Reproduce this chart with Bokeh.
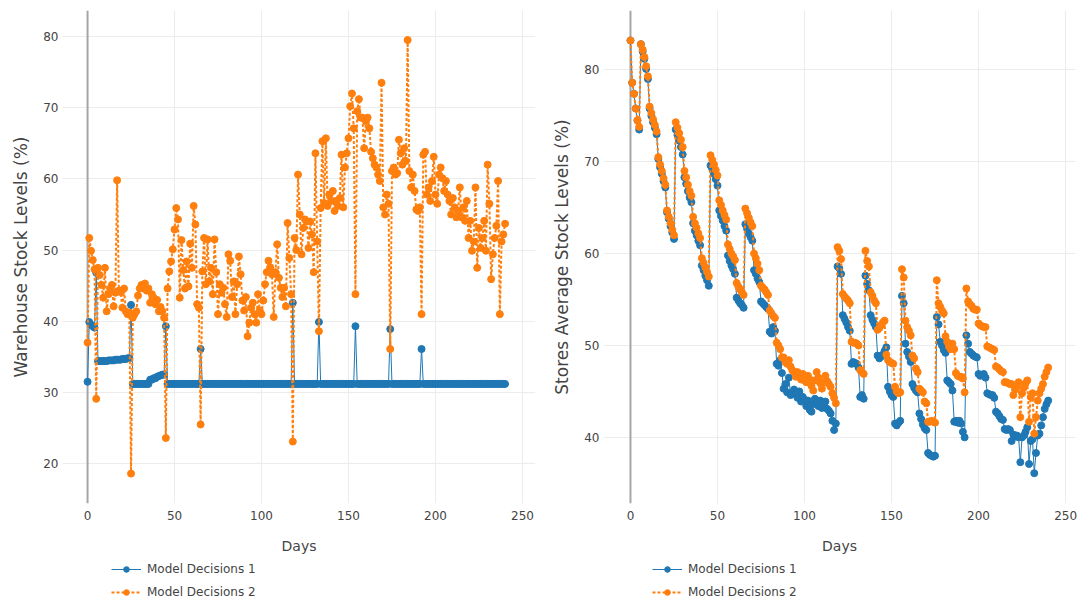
from bokeh.plotting import figure
from bokeh.layouts import row, column
from bokeh.models import Span, Legend, LegendItem, Range1d
from bokeh.embed import file_html
from bokeh.resources import INLINE

# ---------------- data ----------------
warehouse_md1 = [
    31.5, 39.9, 39.5, 39.3, 39.1, 46.8, 34.4, 34.4, 34.4, 34.4,
    34.4, 34.4, 34.5, 34.5, 34.5, 34.5, 34.6, 34.6, 34.6, 34.6,
    34.7, 34.7, 34.7, 34.8, 34.8, 42.3, 31.2, 31.2, 31.2, 31.2,
    31.2, 31.2, 31.2, 31.2, 31.2, 31.2, 31.8, 31.8, 32.0, 32.0,
    32.2, 32.3, 32.4, 32.5, 32.5, 39.3, 31.2, 31.2, 31.2, 31.2,
    31.2, 31.2, 31.2, 31.2, 31.2, 31.2, 31.2, 31.2, 31.2, 31.2,
    31.2, 31.2, 31.2, 31.2, 31.2, 36.1, 31.2, 31.2, 31.2, 31.2,
    31.2, 31.2, 31.2, 31.2, 31.2, 31.2, 31.2, 31.2, 31.2, 31.2,
    31.2, 31.2, 31.2, 31.2, 31.2, 31.2, 31.2, 31.2, 31.2, 31.2,
    31.2, 31.2, 31.2, 31.2, 31.2, 31.2, 31.2, 31.2, 31.2, 31.2,
    31.2, 31.2, 31.2, 31.2, 31.2, 31.2, 31.2, 31.2, 31.2, 31.2,
    31.2, 31.2, 31.2, 31.2, 31.2, 31.2, 31.2, 31.2, 42.6, 31.2,
    31.2, 31.2, 31.2, 31.2, 31.2, 31.2, 31.2, 31.2, 31.2, 31.2,
    31.2, 31.2, 31.2, 39.9, 31.2, 31.2, 31.2, 31.2, 31.2, 31.2,
    31.2, 31.2, 31.2, 31.2, 31.2, 31.2, 31.2, 31.2, 31.2, 31.2,
    31.2, 31.2, 31.2, 31.2, 39.3, 31.2, 31.2, 31.2, 31.2, 31.2,
    31.2, 31.2, 31.2, 31.2, 31.2, 31.2, 31.2, 31.2, 31.2, 31.2,
    31.2, 31.2, 31.2, 31.2, 38.9, 31.2, 31.2, 31.2, 31.2, 31.2,
    31.2, 31.2, 31.2, 31.2, 31.2, 31.2, 31.2, 31.2, 31.2, 31.2,
    31.2, 31.2, 36.1, 31.2, 31.2, 31.2, 31.2, 31.2, 31.2, 31.2,
    31.2, 31.2, 31.2, 31.2, 31.2, 31.2, 31.2, 31.2, 31.2, 31.2,
    31.2, 31.2, 31.2, 31.2, 31.2, 31.2, 31.2, 31.2, 31.2, 31.2,
    31.2, 31.2, 31.2, 31.2, 31.2, 31.2, 31.2, 31.2, 31.2, 31.2,
    31.2, 31.2, 31.2, 31.2, 31.2, 31.2, 31.2, 31.2, 31.2, 31.2,
    31.2,
]

warehouse_md2 = [
    37.0, 51.7, 49.9, 48.6, 47.3, 29.1, 47.5, 46.5, 45.1, 43.3,
    47.5, 41.4, 43.8, 44.6, 45.1, 42.1, 44.0, 59.8, 44.3, 44.1,
    41.9, 44.6, 41.4, 41.0, 41.2, 18.6, 40.5, 41.0, 41.4, 43.6,
    44.6, 45.1, 44.6, 45.3, 44.3, 44.6, 42.6, 43.8, 43.3, 42.4,
    43.0, 41.4, 42.0, 41.4, 40.5, 23.6, 44.6, 47.0, 48.4, 50.1,
    52.9, 55.9, 54.3, 43.3, 51.4, 47.2, 44.6, 48.4, 44.9, 50.9,
    47.5, 56.2, 53.6, 42.4, 41.9, 25.5, 47.0, 51.7, 45.2, 51.5,
    45.6, 47.5, 43.8, 51.5, 46.9, 41.0, 45.2, 44.0, 44.7, 42.4,
    40.6, 49.4, 48.5, 43.4, 45.6, 41.0, 45.2, 49.1, 46.6, 42.9,
    41.5, 43.4, 37.9, 39.8, 41.9, 42.6, 41.0, 39.8, 43.8, 41.5,
    41.0, 42.9, 45.2, 46.9, 48.5, 47.6, 46.6, 40.6, 46.9, 50.8,
    46.1, 44.7, 43.4, 44.7, 42.1, 53.8, 48.9, 43.8, 23.1, 51.7,
    50.0, 60.6, 55.0, 49.4, 53.1, 54.3, 54.0, 50.3, 54.0, 52.2,
    46.9, 63.6, 51.2, 38.6, 55.9, 65.3, 56.6, 65.7, 56.2, 57.8,
    56.9, 58.3, 55.5, 56.9, 56.2, 57.3, 63.4, 56.0, 61.6, 63.6,
    65.7, 70.2, 72.0, 67.1, 43.8, 69.5, 71.2, 68.6, 68.6, 64.3,
    68.1, 68.6, 67.1, 63.8, 62.9, 62.0, 61.6, 60.6, 59.7, 73.5,
    56.0, 55.0, 57.8, 56.5, 36.1, 61.1, 61.6, 60.6, 60.8, 65.5,
    63.6, 62.0, 64.3, 62.5, 79.5, 61.1, 58.8, 60.6, 58.3, 55.7,
    55.5, 56.0, 41.0, 63.4, 63.8, 57.8, 58.8, 56.9, 59.7, 63.1,
    57.8, 56.5, 60.6, 61.6, 60.1, 58.3, 59.7, 57.8, 56.9, 55.0,
    57.3, 56.0, 54.6, 55.5, 58.8, 54.6, 56.0, 54.1, 56.9, 51.7,
    54.1, 49.9, 51.2, 58.8, 47.5, 53.1, 50.3, 51.7, 54.1, 49.9,
    62.0, 56.5, 45.9, 49.4, 51.7, 53.4, 59.7, 41.0, 51.2, 52.2,
    53.7,
]

stores_md1 = [
    83.2, 78.6, 77.4, 75.8, 74.5, 73.5, 82.8, 82.0, 81.2, 80.1,
    79.0, 75.8, 75.0, 74.3, 73.7, 73.0, 70.3, 69.4, 68.7, 67.9,
    67.2, 64.5, 63.8, 63.0, 62.3, 61.6, 73.5, 72.9, 72.3, 71.6,
    70.8, 68.3, 67.6, 66.8, 66.1, 65.6, 63.3, 62.5, 62.0, 61.4,
    60.9, 58.7, 58.2, 57.6, 57.1, 56.5, 69.6, 69.2, 68.7, 68.1,
    67.4, 64.7, 64.1, 63.6, 63.0, 62.5, 59.8, 59.2, 58.7, 58.3,
    57.8, 55.2, 54.9, 54.6, 54.4, 54.1, 63.2, 62.7, 62.2, 61.8,
    61.4, 58.2, 57.8, 57.3, 56.9, 54.8, 54.6, 54.4, 54.2, 54.0,
    51.5, 51.3, 52.0, 51.6, 48.0, 47.8, 48.4, 47.0, 45.3, 45.8,
    44.9, 46.5, 44.6, 44.7, 45.2, 44.8, 44.3, 45.0, 43.9, 44.4,
    44.1, 43.4, 44.0, 43.0, 42.8, 43.6, 44.2, 43.7, 43.4, 44.0,
    43.2, 43.5, 43.9, 43.1, 42.9, 42.6, 41.8, 40.8, 41.5, 58.6,
    58.4, 57.8, 53.3, 52.9, 52.5, 52.0, 51.6, 48.0, 48.2, 48.1,
    48.0, 47.6, 44.4, 44.6, 44.2, 57.6, 56.7, 56.0, 53.3, 52.8,
    52.4, 52.0, 48.9, 48.6, 48.8, 49.0, 49.4, 49.8, 45.5, 45.0,
    44.6, 44.4, 41.5, 41.3, 41.6, 41.8, 55.4, 54.6, 50.2, 49.3,
    48.8, 48.2, 45.8, 45.4, 45.1, 44.9, 42.6, 42.0, 41.4, 41.0,
    40.8, 38.3, 38.1, 38.0, 37.9, 38.0, 53.1, 52.3, 50.4, 50.0,
    49.5, 49.2, 46.2, 46.0, 45.8, 45.1, 41.7, 41.8, 41.6, 41.8,
    41.5, 40.6, 40.0, 51.1, 50.2, 49.3, 49.1, 48.9, 48.8, 48.7,
    46.9, 46.7, 46.8, 46.9, 46.5, 44.8, 44.7, 44.6, 44.6, 44.3,
    42.8, 42.6, 42.3, 42.0, 41.9, 40.9, 40.8, 40.9, 40.8, 39.6,
    40.3, 40.1, 40.2, 40.0, 37.3, 40.0, 40.2, 40.6, 41.1, 37.1,
    39.6, 39.8, 36.1, 38.3, 40.2, 40.4, 41.3, 42.2, 43.1, 43.6,
    44.0,
]

stores_md2 = [
    83.2, 78.6, 77.4, 75.8, 74.5, 73.8, 82.8, 82.2, 81.4, 80.4,
    79.3, 76.0, 75.3, 74.6, 74.0, 73.3, 70.5, 69.7, 69.0, 68.2,
    67.5, 64.7, 64.0, 63.3, 62.6, 62.0, 74.3, 73.7, 73.1, 72.4,
    71.6, 69.0, 68.3, 67.5, 66.8, 66.3, 64.0, 63.3, 62.8, 62.2,
    61.7, 59.5, 59.0, 58.5, 58.0, 57.5, 70.7, 70.2, 69.7, 69.1,
    68.5, 65.8, 65.3, 64.7, 64.2, 63.7, 61.0, 60.5, 60.0, 59.7,
    59.3, 56.8, 56.4, 56.1, 55.8, 55.5, 64.9, 64.4, 63.9, 63.4,
    63.0, 60.0, 59.5, 58.9, 58.2, 56.5, 56.3, 56.1, 55.8, 55.5,
    53.8, 53.5, 53.2, 53.0, 50.3, 50.0, 49.6, 48.7, 48.7, 48.2,
    48.0, 48.4, 47.7, 47.3, 47.1, 46.6, 47.1, 46.8, 46.3, 46.9,
    46.2, 46.0, 46.7, 46.3, 45.6, 45.1, 46.2, 47.1, 46.5, 45.9,
    45.3, 46.0, 46.7, 46.1, 45.8, 45.5, 44.8, 44.3, 43.7, 60.7,
    60.3, 59.4, 55.6, 55.3, 55.1, 54.9, 54.6, 50.4, 50.3, 50.3,
    50.2, 50.0, 47.3, 47.1, 46.9, 60.3, 59.2, 58.6, 55.8, 55.4,
    54.9, 54.6, 51.7, 51.9, 52.2, 52.5, 52.7, 49.0, 48.4, 48.2,
    48.1, 48.0, 45.5, 45.0, 44.8, 44.9, 58.3, 57.4, 52.7, 52.0,
    51.6, 51.1, 48.9, 48.6, 47.5, 47.1, 45.3, 45.1, 44.9, 43.9,
    43.7, 41.7, 41.7, 41.8, 41.7, 41.6, 57.1, 54.6, 54.2, 53.8,
    53.5, 51.0, 50.4, 49.9, 49.6, 50.2, 49.6, 47.0, 46.7, 46.6,
    46.6, 46.4, 44.9, 56.2, 54.8, 54.5, 54.3, 54.0, 53.9, 53.9,
    52.4, 52.2, 52.1, 52.0, 52.0, 49.9, 49.8, 49.7, 49.6, 49.5,
    47.7, 47.6, 47.4, 47.2, 47.1, 46.0, 46.0, 45.9, 45.8, 45.8,
    44.6, 45.2, 45.5, 46.0, 42.2, 44.8, 45.4, 45.9, 46.2, 41.7,
    44.4, 44.8, 40.4, 42.2, 44.0, 44.8, 45.3, 45.8, 46.6, 47.1,
    47.6,
]

days = list(range(len(warehouse_md1)))
x_ticks = [0, 50, 100, 150, 200, 250]
left_y_ticks = [20, 30, 40, 50, 60, 70, 80]
right_y_ticks = [40, 50, 60, 70, 80]
series_names = ["Model Decisions 1", "Model Decisions 2"]

BLUE = "#1f77b4"
ORANGE = "#ff7f0e"
FONT = "DejaVu Sans"
TXT = "#444444"
LINE1 = dict(line_color=BLUE, line_width=1)
LINE2 = dict(line_color=ORANGE, line_width=2, line_dash="3 2")
MARK1 = dict(size=7, fill_color=BLUE, line_color=BLUE)
MARK2 = dict(size=7, fill_color=ORANGE, line_color=ORANGE)


def make_panel(ys1, ys2, x_rng, y_rng, y_ticks, y_title, border_left, frame_w):
    p = figure(frame_width=frame_w, frame_height=493,
               min_border_left=border_left, min_border_right=5,
               min_border_top=10, min_border_bottom=56,
               x_range=Range1d(*x_rng), y_range=Range1d(*y_rng),
               output_backend="svg", toolbar_location=None,
               background_fill_color="white", border_fill_color="white")
    p.outline_line_color = None

    for ax in (p.xaxis[0], p.yaxis[0]):
        ax.axis_line_color = None
        ax.major_tick_line_color = None
        ax.minor_tick_line_color = None
        ax.major_tick_out = 0
        ax.major_tick_in = 0
        ax.major_label_text_font = FONT
        ax.major_label_text_font_size = "12px"
        ax.major_label_text_color = TXT
        ax.axis_label_text_font = FONT
        ax.axis_label_text_font_style = "normal"
        ax.axis_label_text_color = TXT

    p.xaxis.ticker = x_ticks
    p.yaxis.ticker = y_ticks
    p.xaxis.major_label_standoff = 7
    p.yaxis.major_label_standoff = 4
    p.xaxis.axis_label = "Days"
    p.xaxis.axis_label_text_font_size = "14px"
    p.xaxis.axis_label_standoff = 15
    p.yaxis.axis_label = y_title
    p.yaxis.axis_label_text_font_size = "17px"
    p.yaxis.axis_label_standoff = 9

    p.xgrid.ticker = [t for t in x_ticks if t != 0]
    p.ygrid.ticker = y_ticks
    p.xgrid.grid_line_color = "#ececec"
    p.ygrid.grid_line_color = "#ececec"

    zero = Span(location=0, dimension="height", line_color="#a6a6a6",
                line_width=2, level="underlay")
    p.add_layout(zero)

    p.line(days, ys1, **LINE1)
    p.scatter(days, ys1, **MARK1)
    p.line(days, ys2, **LINE2)
    p.scatter(days, ys2, **MARK2)
    return p


def make_legend(ys1, ys2, x_offset):
    # legend strip; its renderers hold the series but the view range keeps them off-screen
    q = figure(width=540, height=42, min_border=0,
               x_range=Range1d(-2000, -1999), y_range=Range1d(-2000, -1999),
               x_axis_type=None, y_axis_type=None,
               output_backend="svg", toolbar_location=None,
               background_fill_color="white", border_fill_color="white")
    q.outline_line_color = None
    l1 = q.line(days, ys1, **LINE1)
    s1 = q.scatter(days, ys1, **MARK1)
    l2 = q.line(days, ys2, **LINE2)
    s2 = q.scatter(days, ys2, **MARK2)
    legend = Legend(items=[LegendItem(label=series_names[0], renderers=[l1, s1]),
                           LegendItem(label=series_names[1], renderers=[l2, s2])],
                    location=(x_offset, 2), orientation="vertical",
                    padding=0, margin=0, spacing=9,
                    glyph_width=30, glyph_height=14, label_height=14,
                    label_standoff=6,
                    label_text_font=FONT, label_text_font_size="12px",
                    label_text_color=TXT,
                    background_fill_alpha=0, border_line_color=None)
    q.add_layout(legend)
    return q


left = make_panel(warehouse_md1, warehouse_md2, (-14.4, 257.5), (14.4, 83.65),
                  left_y_ticks, "Warehouse Stock Levels (%)", 62, 473)
right = make_panel(stores_md1, stores_md2, (-15.5, 255.7), (32.8, 86.46),
                   right_y_ticks, "Stores Average Stock Levels (%)", 63, 472)
legend_left = make_legend(warehouse_md1, warehouse_md2, 111)
legend_right = make_legend(stores_md1, stores_md2, 112)

layout = column(row(left, right), row(legend_left, legend_right))
open("out.html", "w").write(file_html(layout, INLINE))
